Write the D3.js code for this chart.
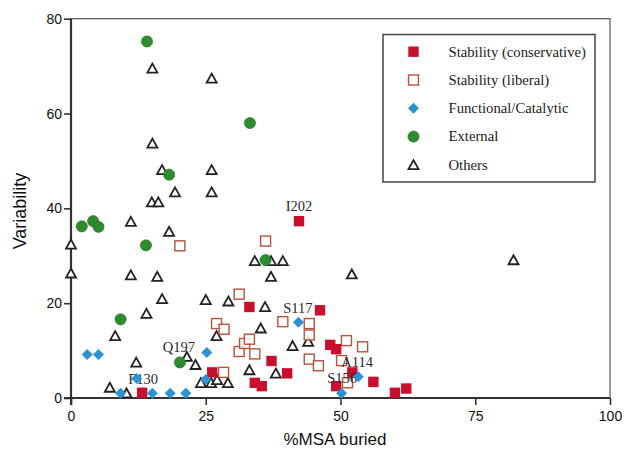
<!DOCTYPE html>
<html>
<head>
<meta charset="utf-8">
<script src="https://cdn.jsdelivr.net/npm/d3@7"></script>
<style>
  body { margin: 0; background: #fff; }
  svg { display: block; }
</style>
</head>
<body>
<div id="chart"></div>
<script>
// data: [%MSA buried, variability]
var stabilityConservative = [
  [42.3, 37.3], [33.1, 19.2], [46.2, 18.5], [13.2, 1.1], [26.2, 5.4], [37.2, 7.8],
  [34.1, 3.2], [35.4, 2.5], [40.1, 5.2], [48.1, 11.2], [49.2, 10.3], [52.2, 5.4],
  [49.2, 2.5], [56.1, 3.4], [60.1, 1.1], [62.2, 2.0]
];
var stabilityLiberal = [
  [20.2, 32.1], [36.1, 33.1], [31.2, 21.9], [27.0, 15.7], [28.4, 14.5], [39.3, 16.1],
  [44.2, 15.7], [44.2, 13.3], [31.2, 9.8], [32.2, 11.5], [33.1, 12.4], [34.1, 9.3],
  [28.3, 5.4], [44.2, 8.2], [45.9, 6.8], [51.1, 12.1], [54.1, 10.8], [50.2, 7.9],
  [51.3, 3.2]
];
var functionalCatalytic = [
  [3.0, 9.2], [5.1, 9.2], [9.2, 1.0], [12.2, 4.1], [15.1, 1.0], [18.4, 1.0],
  [21.3, 1.0], [25.2, 9.6], [25.0, 3.9], [42.2, 16.0], [53.3, 4.5], [50.2, 1.0]
];
var external = [
  [14.1, 75.2], [33.2, 58.0], [18.2, 47.1], [2.0, 36.2], [4.1, 37.3], [5.1, 36.1],
  [13.9, 32.2], [36.1, 29.1], [9.2, 16.6], [20.2, 7.5]
];
var others = [
  [15.1, 69.5], [26.1, 67.4], [15.1, 53.7], [16.9, 48.1], [26.1, 48.1], [19.3, 43.4],
  [26.1, 43.4], [15.0, 41.3], [16.2, 41.3], [11.1, 37.2], [18.2, 35.1], [0, 32.4],
  [0, 26.3], [11.1, 25.9], [16.0, 25.6], [34.1, 28.9], [37.1, 28.9], [39.3, 28.9],
  [37.1, 25.6], [16.9, 20.9], [25.0, 20.7], [29.2, 20.4], [36.0, 19.2], [14.0, 17.8],
  [8.2, 13.1], [27.0, 13.1], [35.2, 14.7], [41.1, 11.0], [44.0, 11.9], [12.1, 7.5],
  [21.5, 8.7], [23.1, 7.0], [33.1, 5.9], [38.0, 5.2], [7.2, 2.2], [10.3, 1.0],
  [24.1, 3.2], [26.0, 3.2], [27.1, 3.8], [29.1, 3.2], [52.1, 26.1], [82.1, 29.1]
];
// residue labels, anchored (text centre, baseline) in data units
var residueNames = ["I202", "S117", "Q197", "F130", "A114", "S156"];
var residueAt = [[42.3, 39.4], [42.1, 17.9], [20.0, 9.7], [13.4, 2.95], [53.1, 6.5], [50.3, 3.1]];

var xTicks = [0, 25, 50, 75, 100];
var yTicks = [0, 20, 40, 60, 80];
var legendNames = ["Stability (conservative)", "Stability (liberal)", "Functional/Catalytic", "External", "Others"];

var width = 626, height = 449;
var plotLeft = 71, plotRight = 610, plotTop = 18.7, plotBottom = 398;

var svg = d3.select("#chart").append("svg")
  .attr("width", width)
  .attr("height", height);

var x = d3.scaleLinear().domain([0, 100]).range([plotLeft, plotRight]);
var y = d3.scaleLinear().domain([0, 80]).range([plotBottom, plotTop]);

// thin frame on top and right
svg.append("rect")
  .attr("x", plotLeft).attr("y", plotTop)
  .attr("width", plotRight - plotLeft).attr("height", plotBottom - plotTop)
  .attr("fill", "none")
  .attr("stroke", "#555")
  .attr("stroke-width", 1.2);

var xAxis = svg.append("g")
  .attr("transform", "translate(0," + plotBottom + ")")
  .call(d3.axisBottom(x).tickValues(xTicks).tickSize(7).tickSizeOuter(0).tickPadding(6));
var yAxis = svg.append("g")
  .attr("transform", "translate(" + plotLeft + ",0)")
  .call(d3.axisLeft(y).tickValues(yTicks).tickSize(7).tickSizeOuter(0).tickPadding(2));

[xAxis, yAxis].forEach(function(a) {
  a.select(".domain").attr("stroke", "#333").attr("stroke-width", 2.2);
  a.selectAll(".tick line").attr("stroke", "#333").attr("stroke-width", 1.6);
  a.selectAll(".tick text")
    .attr("fill", "#111")
    .style("font-family", "'Liberation Sans', Arial, sans-serif")
    .style("font-size", "14px");
});
// extend axes a bit beyond the corner like the original
xAxis.select(".domain").attr("d", "M" + (plotLeft - 7) + ",0H" + plotRight);
yAxis.select(".domain").attr("d", "M0," + (plotBottom + 7) + "V" + plotTop);

// axis titles
svg.append("text")
  .attr("x", 335)
  .attr("y", 445)
  .attr("text-anchor", "middle")
  .style("font-family", "'Liberation Sans', Arial, sans-serif")
  .style("font-size", "17px")
  .attr("fill", "#111")
  .text("%MSA buried");

svg.append("text")
  .attr("transform", "translate(26,211) rotate(-90)")
  .attr("text-anchor", "middle")
  .style("font-family", "'Liberation Sans', Arial, sans-serif")
  .style("font-size", "18px")
  .attr("fill", "#111")
  .text("Variability");

// marker drawers
var red = "#c8102e", liberal = "#b5533c", blue = "#2b93d1", green = "#2e8b2f";

function triangle(g) {
  g.append("path")
    .attr("d", "M0,-4.8L5,4.2L-5,4.2Z")
    .attr("fill", "#fff")
    .attr("stroke", "#222")
    .attr("stroke-width", 1.8)
    .attr("stroke-linejoin", "miter");
}
function openSquare(g) {
  g.append("rect")
    .attr("x", -5).attr("y", -5).attr("width", 10).attr("height", 10)
    .attr("fill", "#fff")
    .attr("fill-opacity", 0.85)
    .attr("stroke", liberal)
    .attr("stroke-width", 1.4);
}
function filledSquare(g) {
  g.append("rect")
    .attr("x", -5.2).attr("y", -5.2).attr("width", 10.4).attr("height", 10.4)
    .attr("fill", red);
}
function diamond(g) {
  g.append("path")
    .attr("d", "M0,-5.5L5.5,0L0,5.5L-5.5,0Z")
    .attr("fill", blue);
}
function circle(g) {
  g.append("circle")
    .attr("r", 5.6)
    .attr("fill", green)
    .attr("stroke", "#1f6e22")
    .attr("stroke-width", 0.6);
}

function plotSeries(data, draw) {
  svg.append("g").selectAll("g")
    .data(data)
    .enter()
    .append("g")
    .attr("transform", function(d) { return "translate(" + x(d[0]) + "," + y(d[1]) + ")"; })
    .each(function() { draw(d3.select(this)); });
}

plotSeries(others, triangle);
plotSeries(stabilityLiberal, openSquare);
plotSeries(stabilityConservative, filledSquare);

// residue labels sit above the squares, below diamonds and circles
svg.append("g").selectAll("text")
  .data(residueNames)
  .enter()
  .append("text")
  .attr("x", function(d, i) { return x(residueAt[i][0]); })
  .attr("y", function(d, i) { return y(residueAt[i][1]); })
  .attr("text-anchor", "middle")
  .style("font-family", "'Liberation Serif', 'Times New Roman', serif")
  .style("font-size", "14.5px")
  .attr("fill", "#2a2a2a")
  .text(function(d) { return d; });

plotSeries(functionalCatalytic, diamond);
plotSeries(external, circle);

// legend
var legend = svg.append("g");
legend.append("rect")
  .attr("x", 383).attr("y", 34.5)
  .attr("width", 212).attr("height", 147.5)
  .attr("fill", "#fff")
  .attr("stroke", "#444")
  .attr("stroke-width", 1.5);

var legendDraw = [filledSquare, openSquare, diamond, circle, triangle];
legendNames.forEach(function(name, i) {
  var row = legend.append("g")
    .attr("transform", "translate(413.5," + (51.7 + i * 28.3) + ")");
  legendDraw[i](row);
  row.append("text")
    .attr("x", 35)
    .attr("y", 4.8)
    .style("font-family", "'Liberation Serif', 'Times New Roman', serif")
    .style("font-size", "14.7px")
    .attr("fill", "#1a1a1a")
    .text(name);
});
</script>
</body>
</html>
